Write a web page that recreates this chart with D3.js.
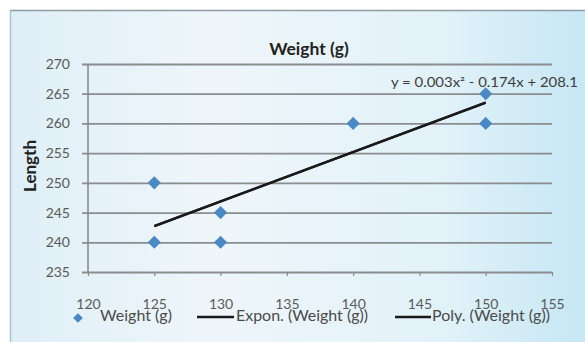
<!DOCTYPE html>
<html>
<head>
<meta charset="utf-8">
<script src="https://cdn.jsdelivr.net/npm/d3@7"></script>
<style>
  html, body { margin: 0; padding: 0; background: #fff; }
  svg { display: block; }
  text { font-family: Lato, "Open Sans", sans-serif; }
</style>
</head>
<body>
<svg id="chart" width="585" height="342"></svg>
<script>
// Measurements: weight (g) against length
const weights = [125, 125, 130, 130, 140, 150, 150];
const lengths = [250, 240, 245, 240, 260, 265, 260];

// Trendline end points (weight, length)
const trendX = [125, 150];
const trendY = [242.7, 263.5];

const xTicks = [120, 125, 130, 135, 140, 145, 150, 155];
const yTicks = [235, 240, 245, 250, 255, 260, 265, 270];

const titleText = "Weight (g)";
const yTitle = "Length";
const equation = "y = 0.003x² - 0.174x + 208.1";
const legendLabels = ["Weight (g)", "Expon. (Weight (g))", "Poly. (Weight (g))"];

const svg = d3.select("#chart");

// Chart area background
const defs = svg.append("defs");
const grad = defs.append("linearGradient").attr("id", "bg")
  .attr("x1", "0").attr("y1", "0").attr("x2", "1").attr("y2", "0");
grad.append("stop").attr("offset", "0").attr("stop-color", "#dfeff7");
grad.append("stop").attr("offset", "0.35").attr("stop-color", "#eef6fa");
grad.append("stop").attr("offset", "0.75").attr("stop-color", "#e2f2f9");
grad.append("stop").attr("offset", "1").attr("stop-color", "#c6e7f4");

svg.append("rect").attr("x", 10).attr("y", 10).attr("width", 575).attr("height", 332)
  .attr("fill", "url(#bg)");
svg.append("line").attr("x1", 10).attr("x2", 585).attr("y1", 10.5).attr("y2", 10.5)
  .attr("stroke", "#8e9ba3").attr("stroke-width", 1.5);
svg.append("line").attr("x1", 10.5).attr("x2", 10.5).attr("y1", 10).attr("y2", 342)
  .attr("stroke", "#a9c3d3").attr("stroke-width", 1.5);

const x = d3.scaleLinear().domain([120, 155]).range([88, 552]);
const y = d3.scaleLinear().domain([235, 270]).range([272, 64]);

// Horizontal gridlines with left ticks
svg.append("g").attr("transform", "translate(88,0)")
  .call(d3.axisLeft(y).tickValues(yTicks).tickSize(-(x(155) - x(120))).tickPadding(18)
    .tickFormat(d3.format("d")))
  .call(g => g.select(".domain").remove())
  .call(g => g.selectAll(".tick line").attr("stroke", "#8a8c8e").attr("stroke-width", 1.8)
    .attr("x1", -6))
  .call(g => g.selectAll(".tick text").attr("fill", "#5a5a5a").attr("font-size", 14)
    .style("font-family", "Lato, sans-serif"));

// Vertical axis line
svg.append("line").attr("x1", x(120)).attr("x2", x(120)).attr("y1", y(270)).attr("y2", y(235))
  .attr("stroke", "#8a8c8e").attr("stroke-width", 1.6);

// Bottom axis ticks and labels
svg.append("g").attr("transform", `translate(0,${y(235)})`)
  .call(d3.axisBottom(x).tickValues(xTicks).tickSize(4).tickPadding(23).tickFormat(d3.format("d")))
  .call(g => g.select(".domain").remove())
  .call(g => g.selectAll(".tick line").attr("stroke", "#8a8c8e").attr("stroke-width", 1.2))
  .call(g => g.selectAll(".tick text").attr("fill", "#5a5a5a").attr("font-size", 14)
    .style("font-family", "Lato, sans-serif"));

// Trendlines (exponential and polynomial overlap)
const trendPts = trendX.map((d, i) => [d, trendY[i]]);
const line = d3.line().x(d => x(d[0])).y(d => y(d[1]));
for (let k = 0; k < 2; k++) {
  svg.append("path").datum(trendPts).attr("d", line)
    .attr("fill", "none").attr("stroke", "#1a1a1a").attr("stroke-width", 2.4);
}

// Data points
const diamond = d3.symbol().type(d3.symbolDiamond2).size(110);
svg.append("g").selectAll("path").data(weights).join("path")
  .attr("transform", (d, i) => `translate(${x(d)},${y(lengths[i])})`)
  .attr("d", diamond)
  .attr("fill", "#4b89c4");

// Title
svg.append("text").attr("x", 309).attr("y", 55).attr("text-anchor", "middle")
  .attr("font-size", 17.5).attr("font-weight", "bold").attr("fill", "#222").text(titleText);

// Axis title
svg.append("text").attr("transform", "translate(36,166) rotate(-90)")
  .attr("text-anchor", "middle").attr("font-size", 17).attr("font-weight", "bold")
  .attr("fill", "#222").text(yTitle);

// Trendline equation
svg.append("text").attr("x", 391).attr("y", 87).attr("font-size", 13)
  .attr("fill", "#3c3c3c").attr("textLength", 187).attr("lengthAdjust", "spacingAndGlyphs")
  .text(equation);

// Legend
const lg = svg.append("g");
lg.append("path").attr("transform", "translate(78,318)")
  .attr("d", d3.symbol().type(d3.symbolDiamond2).size(60)).attr("fill", "#4b89c4");
const lgText = [[100, 72], [236, 132], [432, 118]];
legendLabels.forEach((t, i) => {
  lg.append("text").attr("x", lgText[i][0]).attr("y", 321).attr("font-size", 14.5)
    .attr("fill", "#4a4a4a").attr("textLength", lgText[i][1])
    .attr("lengthAdjust", "spacingAndGlyphs").text(t);
});
lg.append("line").attr("x1", 197).attr("x2", 234).attr("y1", 317).attr("y2", 317)
  .attr("stroke", "#1a1a1a").attr("stroke-width", 2.4);
lg.append("line").attr("x1", 395).attr("x2", 431).attr("y1", 317).attr("y2", 317)
  .attr("stroke", "#1a1a1a").attr("stroke-width", 2.4);
</script>
</body>
</html>
